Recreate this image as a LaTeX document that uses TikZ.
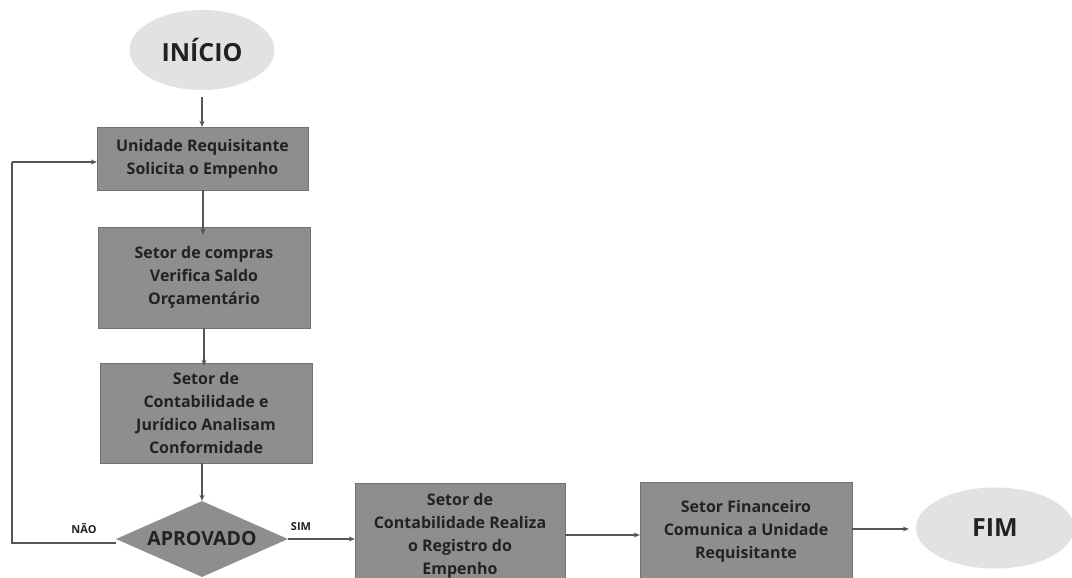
\documentclass[tikz,border=0pt]{standalone}
\usepackage{fontspec}
\setmainfont{Open Sans}
\usetikzlibrary{shapes.geometric,arrows.meta}
\definecolor{boxgray}{HTML}{8E8E8E}
\definecolor{ellgray}{HTML}{E2E2E2}
\definecolor{txt}{HTML}{222222}
\definecolor{lin}{HTML}{555555}
\begin{document}
\begin{tikzpicture}[x=1pt,y=-1pt,
  stepbox/.style={rectangle,fill=boxgray,draw=boxgray!80!black,line width=0.4pt,text=txt,font=\bfseries\fontsize{16}{23}\selectfont,align=center,inner sep=0pt},
  term/.style={ellipse,fill=ellgray,text=txt,font=\bfseries\fontsize{25}{28}\selectfont,inner sep=0pt},
  conn/.style={draw=lin,line width=1.1pt,-{Stealth[length=6pt,width=5pt]}},
  lbl/.style={text=txt,font=\bfseries\fontsize{11}{12}\selectfont,inner sep=0pt}]
\useasboundingbox (0,0) rectangle (1072,578);
\fill[white] (0,0) rectangle (1072,578);
\node[term,minimum width=145pt,minimum height=80pt] (ini) at (202,50) {INÍCIO};
\node[stepbox,minimum width=211pt,minimum height=63pt] (b1) at (202.5,158.5) {Unidade Requisitante\\Solicita o Empenho};
\node[stepbox,minimum width=212pt,minimum height=101pt] (b2) at (204,277.5) {Setor de compras\\Verifica Saldo\\Orçamentário};
\node[stepbox,minimum width=212pt,minimum height=100pt] (b3) at (206,413) {Setor de\\Contabilidade e\\Jurídico Analisam\\Conformidade};
\node[diamond,fill=boxgray,text=txt,font=\bfseries\fontsize{19.5}{21}\selectfont,inner sep=0pt,minimum width=172pt,minimum height=76pt,aspect=2.26] (dec) at (202,539) {APROVADO};
\node[stepbox,minimum width=210pt,minimum height=106pt] (b4) at (460,536) {Setor de\\Contabilidade Realiza\\o Registro do\\Empenho};
\node[stepbox,minimum width=212pt,minimum height=98pt] (b5) at (746,531) {Setor Financeiro\\Comunica a Unidade\\Requisitante};
\node[term,minimum width=158pt,minimum height=81pt] (fim) at (995,528) {FIM};
\coordinate (lb) at (12,543);
\coordinate (lt) at (12,162);
\draw[conn] (ini.south |- 0,97) -- (b1.north -| ini.south);
\draw[conn] (b1.south -| 203,0) -- ([yshift=-8pt]b2.north -| 203,0);
\draw[conn] (b2.south -| 204,0) -- ([yshift=-3pt]b3.north -| 204,0);
\draw[conn] (b3.south -| dec.north) -- (dec.north);
\draw[draw=lin,line width=1.1pt] (dec.west |- lb) -- (lb) -- (lt);
\draw[conn] (lt) -- (b1.west |- lt);
\draw[conn] (dec.east) -- (b4.west |- dec.east);
\draw[conn] (b4.east |- 0,535) -- (b5.west |- 0,535);
\draw[conn] (b5.east |- 0,529) -- ([xshift=-7pt]fim.west |- 0,529);
\node[lbl] (nao) at (84,528) {NÃO};
\node[lbl] (sim) at (301,527) {SIM};
\end{tikzpicture}
\end{document}
